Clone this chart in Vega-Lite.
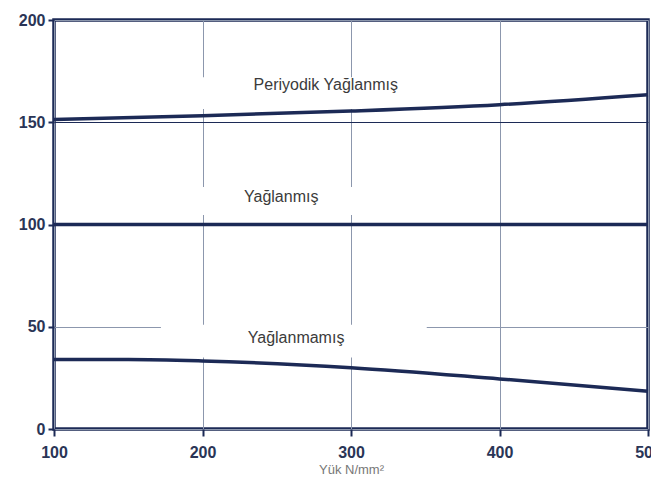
{
  "$schema": "https://vega.github.io/schema/vega-lite/v6.json",
  "width": 594,
  "height": 409,
  "autosize": "none",
  "padding": {"left": 54, "top": 20, "right": 3, "bottom": 56},
  "background": "white",
  "config": {"view": {"stroke": "#1c2a56", "strokeWidth": 3.5}, "font": "Liberation Sans"},
  "datasets": {
    "curves": [
      {"series": "Periyodik Yağlanmış", "load": 100, "value": 151.3},
      {"series": "Periyodik Yağlanmış", "load": 200, "value": 153.2},
      {"series": "Periyodik Yağlanmış", "load": 300, "value": 155.5},
      {"series": "Periyodik Yağlanmış", "load": 400, "value": 158.6},
      {"series": "Periyodik Yağlanmış", "load": 500, "value": 163.5},
      {"series": "Yağlanmış", "load": 100, "value": 100},
      {"series": "Yağlanmış", "load": 500, "value": 100},
      {"series": "Yağlanmamış", "load": 100, "value": 34},
      {"series": "Yağlanmamış", "load": 150, "value": 34},
      {"series": "Yağlanmamış", "load": 200, "value": 33.3},
      {"series": "Yağlanmamış", "load": 300, "value": 30},
      {"series": "Yağlanmamış", "load": 400, "value": 24.5},
      {"series": "Yağlanmamış", "load": 500, "value": 18.5}
    ],
    "labels": [
      {"text": "Periyodik Yağlanmış", "load": 283, "value": 168.2},
      {"text": "Yağlanmış", "load": 253, "value": 113.4},
      {"text": "Yağlanmamış", "load": 263, "value": 44.5}
    ],
    "bands": [
      {"x0": 180, "x1": 395, "y0": 156.5, "y1": 172},
      {"x0": 180, "x1": 395, "y0": 104.6, "y1": 118.3},
      {"x0": 172, "x1": 351, "y0": 35, "y1": 51}
    ]
  },
  "layer": [
    {
      "data": {"name": "bands"},
      "mark": {"type": "rect", "color": "white"},
      "encoding": {
        "x": {
          "field": "x0", "type": "quantitative",
          "scale": {"domain": [100, 500], "nice": false, "zero": false},
          "axis": {
            "title": "Yük N/mm²",
            "values": [100, 200, 300, 400, 500],
            "grid": true, "gridColor": "#8c97ad", "gridWidth": 1,
            "domain": false,
            "tickColor": "#1c2a56", "tickWidth": 2, "tickSize": 7,
            "labelFont": "Liberation Sans", "labelFontWeight": "bold", "labelFontSize": 16,
            "labelColor": "#2a3556", "labelPadding": 8, "labelFlush": false,
            "titleFont": "Liberation Sans", "titleFontSize": 13, "titleFontWeight": "normal",
            "titleColor": "#777777", "titlePadding": 3
          }
        },
        "x2": {"field": "x1"},
        "y": {
          "field": "y0", "type": "quantitative",
          "scale": {"domain": [0, 200], "nice": false},
          "axis": {
            "title": null,
            "values": [0, 50, 100, 150, 200],
            "grid": true,
            "gridColor": {"condition": {"test": "datum.value === 150", "value": "#1c2a56"}, "value": "#8c97ad"},
            "gridWidth": 1,
            "domain": false,
            "tickColor": "#1c2a56", "tickWidth": 2, "tickSize": 6,
            "labelFont": "Liberation Sans", "labelFontWeight": "bold", "labelFontSize": 16,
            "labelColor": "#2a3556", "labelPadding": 3
          }
        },
        "y2": {"field": "y1"}
      }
    },
    {
      "data": {"name": "curves"},
      "mark": {"type": "line", "interpolate": "monotone", "color": "#1c2a56", "strokeWidth": 3.5},
      "encoding": {
        "x": {"field": "load", "type": "quantitative"},
        "y": {"field": "value", "type": "quantitative"},
        "detail": {"field": "series"}
      }
    },
    {
      "data": {"name": "labels"},
      "mark": {"type": "text", "fontSize": 16, "color": "#3b3b3b", "font": "Liberation Sans"},
      "encoding": {
        "x": {"field": "load", "type": "quantitative"},
        "y": {"field": "value", "type": "quantitative"},
        "text": {"field": "text"}
      }
    }
  ]
}
